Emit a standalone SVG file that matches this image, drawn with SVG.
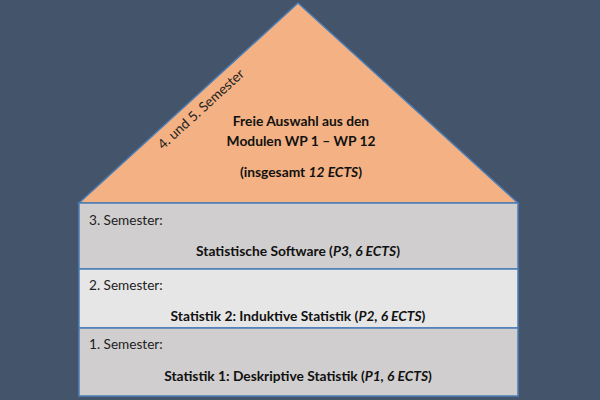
<svg xmlns="http://www.w3.org/2000/svg" width="600" height="400" viewBox="0 0 600 400">
<style>
.bg{fill:#44546A}
.box{stroke:#4A7DB5;stroke-width:1.5}
.t{font-family:Lato,"Liberation Sans",sans-serif;font-size:13.8px;fill:#111}
.b{font-weight:bold}
.m{text-anchor:middle}
.s{font-family:Lato,"Liberation Sans",sans-serif;font-size:13.6px;fill:#222}
</style>
<rect class="bg" x="0" y="0" width="600" height="400"/>
<g id="roof">
<polygon class="box" points="298,3 518,203 79,203" fill="#F4B183"/>
<text class="s" transform="translate(163,150) rotate(-42.4)">4. und 5. Semester</text>
<text class="t b m" x="301" y="126">Freie Auswahl aus den</text>
<text class="t b m" x="301" y="146">Modulen WP 1 – WP 12</text>
<text class="t b m" x="301" y="177">(insgesamt <tspan font-style="italic">12 ECTS</tspan>)</text>
</g>
<g id="sem3">
<rect class="box" x="79" y="203" width="439" height="66" fill="#D0CECE"/>
<text class="s" x="89" y="225">3. Semester:</text>
<text class="t b m" x="298" y="256">Statistische Software (<tspan font-style="italic">P3, 6 ECTS</tspan>)</text>
</g>
<g id="sem2">
<rect class="box" x="79" y="269" width="439" height="59" fill="#E7E6E6"/>
<text class="s" x="89" y="290">2. Semester:</text>
<text class="t b m" x="298" y="321">Statistik 2: Induktive Statistik (<tspan font-style="italic">P2, 6 ECTS</tspan>)</text>
</g>
<g id="sem1">
<rect class="box" x="79" y="328" width="439" height="68" fill="#D0CECE"/>
<text class="s" x="89" y="349">1. Semester:</text>
<text class="t b m" x="298" y="381">Statistik 1: Deskriptive Statistik (<tspan font-style="italic">P1, 6 ECTS</tspan>)</text>
</g>
<g id="connectors"/>
</svg>
